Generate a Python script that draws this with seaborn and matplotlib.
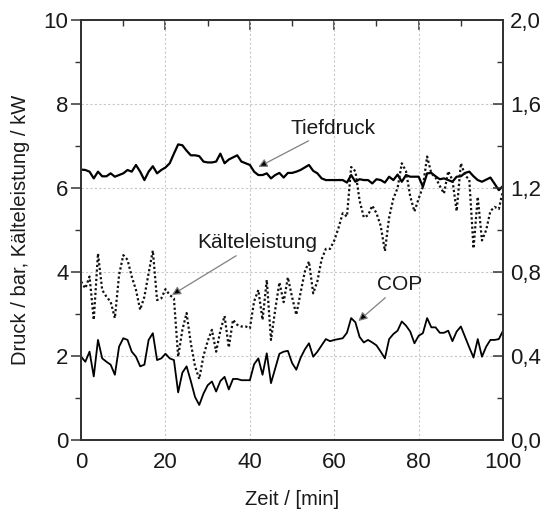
import numpy as np
import pandas as pd
import matplotlib
matplotlib.use("Agg")
import matplotlib.pyplot as plt
from matplotlib.ticker import MultipleLocator, FuncFormatter
import seaborn as sns

# Messzeit in Minuten (ein Messwert pro Minute)
zeit = np.arange(0, 101)

# Tiefdruck / bar
tiefdruck = [6.44, 6.43, 6.39, 6.23, 6.39, 6.28, 6.28, 6.35, 6.27, 6.31,
             6.35, 6.43, 6.39, 6.55, 6.39, 6.19, 6.39, 6.52, 6.35, 6.43,
             6.49, 6.59, 6.82, 7.04, 7.02, 6.89, 6.78, 6.78, 6.76, 6.63,
             6.61, 6.61, 6.63, 6.82, 6.59, 6.68, 6.73, 6.78, 6.63, 6.59,
             6.55, 6.39, 6.31, 6.31, 6.35, 6.23, 6.31, 6.36, 6.25, 6.36,
             6.36, 6.39, 6.43, 6.49, 6.55, 6.41, 6.35, 6.23, 6.19, 6.19,
             6.19, 6.19, 6.19, 6.13, 6.31, 6.15, 6.21, 6.19, 6.19, 6.11,
             6.21, 6.19, 6.13, 6.27, 6.19, 6.32, 6.15, 6.31, 6.27, 6.27,
             6.27, 6.03, 6.35, 6.36, 6.28, 6.21, 6.23, 6.19, 6.15, 6.27,
             6.28, 6.36, 6.39, 6.28, 6.19, 6.15, 6.20, 6.25, 6.10, 5.95,
             6.05]

# Kälteleistung / kW
kaelteleistung = [3.77, 3.61, 3.89, 2.86, 4.44, 3.57, 3.41, 3.29, 2.90, 3.93,
                  4.40, 4.29, 3.89, 3.57, 3.10, 3.41, 3.97, 4.51, 3.33, 3.37,
                  3.59, 3.45, 3.37, 1.98, 2.62, 3.02, 2.30, 1.75, 1.45, 2.00,
                  2.35, 2.62, 2.10, 2.60, 2.95, 2.20, 2.86, 2.74, 2.70, 2.70,
                  2.66, 3.30, 3.57, 2.86, 3.81, 2.38, 3.10, 3.75, 3.28, 3.87,
                  3.40, 2.98, 3.50, 4.00, 4.25, 3.49, 3.78, 4.30, 4.55, 4.55,
                  4.75, 5.05, 5.40, 5.32, 6.50, 6.40, 5.70, 5.30, 5.35, 5.58,
                  5.40, 5.10, 4.50, 5.30, 5.75, 6.00, 6.59, 6.40, 5.80, 5.44,
                  5.75, 6.03, 6.75, 6.35, 6.25, 6.05, 5.87, 6.40, 6.19, 5.45,
                  6.59, 6.30, 6.20, 4.56, 5.79, 4.75, 5.00, 5.45, 5.55, 5.50,
                  5.95]

# Leistungszahl (rechte Achse)
cop = [0.396, 0.372, 0.420, 0.302, 0.476, 0.388, 0.372, 0.358, 0.310, 0.444,
       0.484, 0.476, 0.420, 0.396, 0.350, 0.358, 0.476, 0.508, 0.380, 0.388,
       0.410, 0.388, 0.380, 0.226, 0.320, 0.350, 0.280, 0.204, 0.166, 0.220,
       0.260, 0.278, 0.230, 0.280, 0.300, 0.240, 0.290, 0.290, 0.284, 0.284,
       0.284, 0.360, 0.388, 0.310, 0.412, 0.270, 0.340, 0.410, 0.420, 0.424,
       0.366, 0.334, 0.390, 0.430, 0.460, 0.396, 0.420, 0.450, 0.480, 0.470,
       0.476, 0.480, 0.484, 0.510, 0.580, 0.560, 0.490, 0.464, 0.476, 0.464,
       0.450, 0.420, 0.388, 0.480, 0.504, 0.520, 0.564, 0.544, 0.516, 0.460,
       0.496, 0.508, 0.580, 0.536, 0.536, 0.510, 0.510, 0.520, 0.470, 0.516,
       0.540, 0.490, 0.440, 0.392, 0.480, 0.396, 0.444, 0.476, 0.476, 0.480,
       0.520]

x_ticks = [0, 20, 40, 60, 80, 100]
y_ticks = [0, 2, 4, 6, 8, 10]
cop_ticks = [0.0, 0.4, 0.8, 1.2, 1.6, 2.0]

sns.set_style("white")
plt.rcParams["font.family"] = ["Liberation Sans", "DejaVu Sans"]
plt.rcParams["text.color"] = "#1a1a1a"
plt.rcParams["axes.labelcolor"] = "#1a1a1a"
plt.rcParams["xtick.color"] = "#333333"
plt.rcParams["ytick.color"] = "#333333"
plt.rcParams["xtick.labelcolor"] = "#1a1a1a"
plt.rcParams["ytick.labelcolor"] = "#1a1a1a"

df = pd.DataFrame({"Zeit": zeit, "Tiefdruck": tiefdruck,
                   "Kälteleistung": kaelteleistung, "COP": cop})

fig = plt.figure(figsize=(5.48, 5.18), dpi=100)
ax = fig.add_axes([0.148, 0.151, 0.770, 0.810])

sns.lineplot(data=df, x="Zeit", y="Tiefdruck", ax=ax, color="black", lw=1.6)
sns.lineplot(data=df, x="Zeit", y="Kälteleistung", ax=ax, color="#111111",
             lw=1.6, linestyle=(0, (1, 1.1)))

ax2 = ax.twinx()
sns.lineplot(data=df, x="Zeit", y="COP", ax=ax2, color="black", lw=1.3)

# Achsen links / unten
ax.set_xlim(0, 100)
ax.set_ylim(0, 10)
ax.set_xticks(x_ticks)
ax.set_yticks(y_ticks)
ax.xaxis.set_minor_locator(MultipleLocator(10))
ax.yaxis.set_minor_locator(MultipleLocator(1))
ax.tick_params(axis="both", which="major", direction="out", length=7,
               width=1.1, labelsize=16, pad=2)
ax.tick_params(axis="both", which="minor", direction="out", length=4, width=1.0)
ax.set_xlabel("Zeit / [min]", fontsize=14.5, labelpad=12)
ax.set_ylabel("Druck / bar, Kälteleistung / kW", fontsize=14.5, labelpad=10)
ax.grid(True, which="major", linestyle=(0, (2, 2)), color="#c8c8c8", lw=0.8)

# Obere Achse: Ticks nach innen, ohne Beschriftung
top = ax.secondary_xaxis("top")
top.set_xticks(x_ticks)
top.xaxis.set_minor_locator(MultipleLocator(10))
top.tick_params(which="major", direction="in", length=7, width=1.1, labeltop=False)
top.tick_params(which="minor", direction="in", length=4, width=1.0)
top.spines["top"].set_visible(False)

# Rechte Achse (COP)
ax2.set_ylim(0, 2)
ax2.set_yticks(cop_ticks)
ax2.yaxis.set_minor_locator(MultipleLocator(0.2))
ax2.yaxis.set_major_formatter(FuncFormatter(lambda v, p: f"{v:.1f}".replace(".", ",")))
ax2.tick_params(axis="y", which="major", direction="in", length=7, width=1.1,
                labelsize=16, pad=5)
ax2.tick_params(axis="y", which="minor", direction="in", length=4, width=1.0)
ax2.set_ylabel("")

for a in (ax, ax2):
    for s in a.spines.values():
        s.set_color("#333333")
        s.set_linewidth(1.4)
        s.set_visible(True)

arrow = dict(arrowstyle="-|>", ec="#808080", fc="black", lw=0.9,
             mutation_scale=13, shrinkA=0, shrinkB=0)
ax.annotate("Tiefdruck", xy=(42.0, 6.50), xytext=(59.7, 7.43),
            ha="center", va="center", fontsize=15, arrowprops=arrow)
ax.annotate("Kälteleistung", xy=(21.5, 3.45), xytext=(41.7, 4.69),
            ha="center", va="center", fontsize=15, arrowprops=arrow)
ax.annotate("COP", xy=(65.7, 2.83), xytext=(75.6, 3.69),
            ha="center", va="center", fontsize=15, arrowprops=arrow)

fig.savefig("out.png", dpi=100)
